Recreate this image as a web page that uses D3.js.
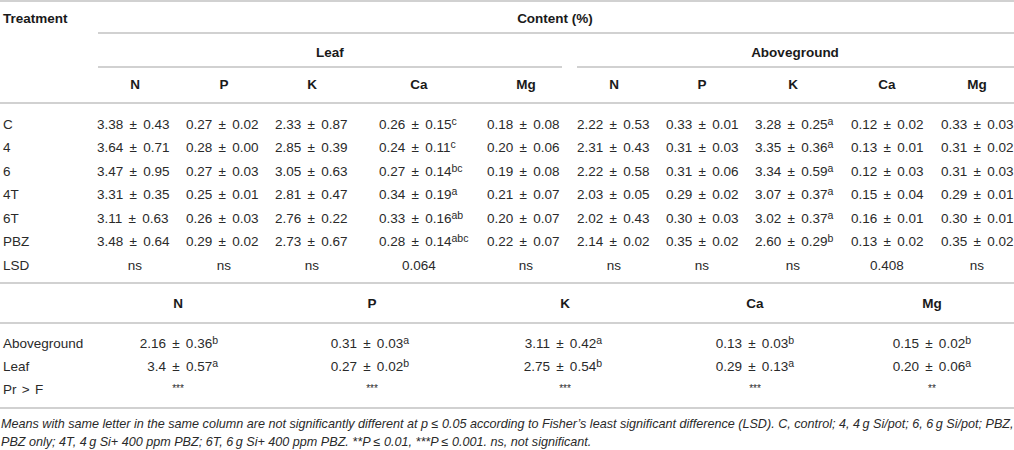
<!DOCTYPE html>
<html>
<head>
<meta charset="utf-8">
<script src="https://cdn.jsdelivr.net/npm/d3@7"></script>
<style>
  body { margin: 0; background: #fff; }
  svg text { font-family: "Liberation Sans", Arial, sans-serif; fill: #2a2a2a; }
  .hd { font-weight: bold; font-size: 13.5px; fill: #1a1a1a; }
  .cell { font-size: 13.5px; }
  .val { font-size: 13.5px; word-spacing: 2.5px; }
  .note { font-size: 12.6px; font-style: italic; }
</style>
</head>
<body>
<div id="chart"></div>
<script>
//data
const treatments = ["C", "4", "6", "4T", "6T", "PBZ"];
const nutrients = ["N", "P", "K", "Ca", "Mg"];

// leaf content, rows = treatments, cols = N P K Ca Mg
const leafMean = [
    [3.38, 0.27, 2.33, 0.26, 0.18],
    [3.64, 0.28, 2.85, 0.24, 0.20],
    [3.47, 0.27, 3.05, 0.27, 0.19],
    [3.31, 0.25, 2.81, 0.34, 0.21],
    [3.11, 0.26, 2.76, 0.33, 0.20],
    [3.48, 0.29, 2.73, 0.28, 0.22]
];
const leafSD = [
    [0.43, 0.02, 0.87, 0.15, 0.08],
    [0.71, 0.00, 0.39, 0.11, 0.06],
    [0.95, 0.03, 0.63, 0.14, 0.08],
    [0.35, 0.01, 0.47, 0.19, 0.07],
    [0.63, 0.03, 0.22, 0.16, 0.07],
    [0.64, 0.02, 0.67, 0.14, 0.07]
];
const leafCaLetters = ["c", "c", "bc", "a", "ab", "abc"];

// aboveground content
const aboveMean = [
    [2.22, 0.33, 3.28, 0.12, 0.33],
    [2.31, 0.31, 3.35, 0.13, 0.31],
    [2.22, 0.31, 3.34, 0.12, 0.31],
    [2.03, 0.29, 3.07, 0.15, 0.29],
    [2.02, 0.30, 3.02, 0.16, 0.30],
    [2.14, 0.35, 2.60, 0.13, 0.35]
];
const aboveSD = [
    [0.53, 0.01, 0.25, 0.02, 0.03],
    [0.43, 0.03, 0.36, 0.01, 0.02],
    [0.58, 0.06, 0.59, 0.03, 0.03],
    [0.05, 0.02, 0.37, 0.04, 0.01],
    [0.43, 0.03, 0.37, 0.01, 0.01],
    [0.02, 0.02, 0.29, 0.02, 0.02]
];
const aboveKLetters = ["a", "a", "a", "a", "a", "b"];

const lsdLeaf = ["ns", "ns", "ns", "0.064", "ns"];
const lsdAbove = ["ns", "ns", "ns", "0.408", "ns"];

// organ means (second part)
const organs = ["Aboveground", "Leaf"];
const organMean = [
    ["2.16", "0.31", "3.11", "0.13", "0.15"],
    ["3.4", "0.27", "2.75", "0.29", "0.20"]
];
const organSD = [
    ["0.36", "0.03", "0.42", "0.03", "0.02"],
    ["0.57", "0.02", "0.54", "0.13", "0.06"]
];
const organLetters = [
    ["b", "a", "a", "b", "b"],
    ["a", "b", "b", "a", "a"]
];
const prF = ["***", "***", "***", "***", "**"];

const footnote = [
    "Means with same letter in the same column are not significantly different at p \u2264 0.05 according to Fisher\u2019s least significant difference (LSD). C, control; 4, 4\u2009g Si/pot; 6, 6\u2009g Si/pot; PBZ,",
    "PBZ only; 4T, 4\u2009g Si+ 400 ppm PBZ; 6T, 6\u2009g Si+ 400 ppm PBZ. **P \u2264 0.01, ***P \u2264 0.001. ns, not significant."
];

//dim
const width = 1014;
const height = 450;
const svg = d3.select("#chart")
    .append("svg")
    .attr("width", width)
    .attr("height", height);

const fmt = d3.format(".2f");

//column layout
const leafStart = d3.scaleOrdinal().domain(nutrients).range([97, 186, 275, 379, 487]);
const aboveStart = d3.scaleOrdinal().domain(nutrients).range([577, 666, 755, 851, 941]);
const leafMid = d3.scaleOrdinal().domain(nutrients).range([135, 224, 312, 419, 526]);
const aboveMid = d3.scaleOrdinal().domain(nutrients).range([614, 702, 793, 887, 977]);
const lowMid = d3.scaleOrdinal().domain(nutrients).range([178, 372, 565, 755, 932]);
const lowEnd = d3.scaleOrdinal().domain(nutrients).range([218, 409, 602, 794, 971]);

//row layout
const yTop = d3.scalePoint().domain([...treatments, "LSD"]).range([124, 265]);
const yLow = d3.scalePoint().domain([...organs, "Pr > F"]).range([343, 389]);

//rules
const rules = [
    [0, width, 1], [98, width, 33], [98, 562, 67], [577, width, 67],
    [0, width, 103], [0, width, 283], [0, width, 323], [0, width, 408]
];
svg.selectAll("line.rule")
    .data(rules)
    .enter()
    .append("line")
        .attr("class", "rule")
        .attr("x1", d => d[0])
        .attr("x2", d => d[1])
        .attr("y1", d => d[2])
        .attr("y2", d => d[2])
        .attr("stroke", "#c2c2c2")
        .attr("stroke-width", 1.6);

//headers
function hd(x, y, txt, anchor) {
    svg.append("text")
        .attr("class", "hd")
        .attr("x", x)
        .attr("y", y)
        .attr("dy", "0.35em")
        .attr("text-anchor", anchor || "middle")
        .text(txt);
}
hd(3, 18, "Treatment", "start");
hd(555, 18, "Content (%)");
hd(330, 52, "Leaf");
hd(795, 52, "Aboveground");
nutrients.forEach(n => {
    hd(leafMid(n), 84, n);
    hd(aboveMid(n), 84, n);
    hd(lowMid(n), 303, n);
});

//value cell with optional superscript letter
function valCell(g, x, y, txt, sup, anchor) {
    const t = g.append("text")
        .attr("class", "val")
        .attr("x", x)
        .attr("y", y)
        .attr("dy", "0.35em")
        .attr("text-anchor", anchor)
        .text(txt);
    if (sup) {
        t.append("tspan")
            .attr("dy", "-0.4em")
            .attr("font-size", "10.5px")
            .attr("word-spacing", "0")
            .text(sup);
    }
}

//treatment rows
const topRows = svg.append("g");
treatments.forEach((tr, i) => {
    const y = yTop(tr);
    topRows.append("text").attr("class", "cell")
        .attr("x", 3).attr("y", y).attr("dy", "0.35em").text(tr);
    nutrients.forEach((n, j) => {
        valCell(topRows, leafStart(n), y, fmt(leafMean[i][j]) + " ± " + fmt(leafSD[i][j]),
            n === "Ca" ? leafCaLetters[i] : null, "start");
        valCell(topRows, aboveStart(n), y, fmt(aboveMean[i][j]) + " ± " + fmt(aboveSD[i][j]),
            n === "K" ? aboveKLetters[i] : null, "start");
    });
});
topRows.append("text").attr("class", "cell")
    .attr("x", 3).attr("y", yTop("LSD")).attr("dy", "0.35em").text("LSD");
nutrients.forEach((n, j) => {
    topRows.append("text").attr("class", "cell")
        .attr("x", leafMid(n)).attr("y", yTop("LSD")).attr("dy", "0.35em")
        .attr("text-anchor", "middle").text(lsdLeaf[j]);
    topRows.append("text").attr("class", "cell")
        .attr("x", aboveMid(n)).attr("y", yTop("LSD")).attr("dy", "0.35em")
        .attr("text-anchor", "middle").text(lsdAbove[j]);
});

//organ rows
const lowRows = svg.append("g");
organs.forEach((o, i) => {
    const y = yLow(o);
    lowRows.append("text").attr("class", "cell")
        .attr("x", 3).attr("y", y).attr("dy", "0.35em").text(o);
    nutrients.forEach((n, j) => {
        valCell(lowRows, lowEnd(n), y, organMean[i][j] + " ± " + organSD[i][j], organLetters[i][j], "end");
    });
});
lowRows.append("text").attr("class", "cell")
    .attr("x", 3).attr("y", yLow("Pr > F")).attr("dy", "0.35em")
    .attr("word-spacing", "1.5px").text("Pr > F");
nutrients.forEach((n, j) => {
    lowRows.append("text")
        .attr("x", lowMid(n)).attr("y", yLow("Pr > F") + 3)
        .attr("text-anchor", "middle")
        .attr("font-size", "10px")
        .text(prF[j]);
});

//footnote
svg.selectAll("text.note")
    .data(footnote)
    .enter()
    .append("text")
        .attr("class", "note")
        .attr("x", 1)
        .attr("y", (d, i) => 424 + i * 18)
        .attr("dy", "0.35em")
        .text(d => d);
</script>
</body>
</html>
